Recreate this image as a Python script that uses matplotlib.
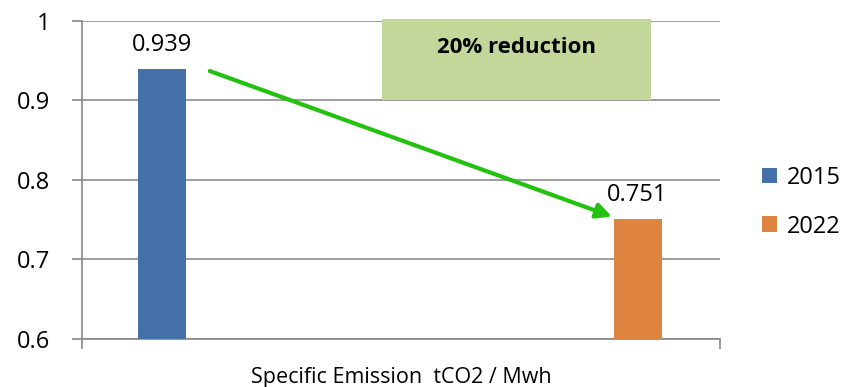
import matplotlib
matplotlib.use("Agg")
import matplotlib.pyplot as plt
from matplotlib.patches import Rectangle

years = ["2015", "2022"]
values = [0.939, 0.751]
colors = ["#4472A8", "#DE8340"]
xlabel = "Specific Emission  tCO2 / Mwh"
yticks = [0.6, 0.7, 0.8, 0.9, 1.0]
ytick_labels = ["0.6", "0.7", "0.8", "0.9", "1"]
note = "20% reduction"

plt.rcParams['font.family'] = ['Open Sans', 'DejaVu Sans']

fig = plt.figure(figsize=(8.54, 3.87), dpi=100)
ax = fig.add_axes([0.096, 0.124, 0.747, 0.822])

xpos = [0, 1]
bw = 0.101
for x, v, c, lab in zip(xpos, values, colors, years):
    ax.bar(x, v - 0.6, bottom=0.6, width=bw, color=c, label=lab, zorder=3)
    ax.text(x, v + 0.0226, f"{v:.3f}", ha="center", va="baseline", fontsize=17, zorder=4)

xmin, xmax = -0.1676, 1.173
ax.set_xlim(xmin, xmax)
ax.set_ylim(0.6, 1.0)
ax.set_yticks(yticks)
ax.set_yticklabels(ytick_labels, fontsize=17)
ax.set_xticks([xmin, xmax])
ax.set_xticklabels(["", ""])
ax.tick_params(axis="both", direction="out", length=7, color="#888888", width=1.2)
ax.tick_params(axis="y", pad=16)
ax.grid(axis="y", color="#8c8c8c", linewidth=1.2, zorder=0)
for s in ["top", "right"]:
    ax.spines[s].set_visible(False)
for s in ["left", "bottom"]:
    ax.spines[s].set_color("#888888")
    ax.spines[s].set_linewidth(1.2)

ax.set_xlabel(xlabel, fontsize=15.5, labelpad=10)

# annotation box
rect = Rectangle((0.4625, 0.9), 0.565, 0.102, facecolor="#C4D79B", edgecolor="none",
                 zorder=2, clip_on=False)
ax.add_patch(rect)
ax.text(0.745, 0.967, note, ha="center", va="center", fontsize=16, fontweight="bold", zorder=4)

# arrow
ax.annotate("", xy=(xpos[1] - 0.054, values[1] + 0.003), xytext=(xpos[0] + 0.101, values[0] - 0.002),
            arrowprops=dict(arrowstyle="-|>,head_length=0.9,head_width=0.45", color="#22C20E",
                            lw=3, shrinkA=0, shrinkB=0), zorder=5)

leg = ax.legend(loc="center left", bbox_to_anchor=(1.066, 0.43), frameon=False, fontsize=17,
                handlelength=0.65, handleheight=0.65, handletextpad=0.4, labelspacing=1.05,
                borderpad=0, borderaxespad=0)

fig.savefig("out.png", dpi=100)
